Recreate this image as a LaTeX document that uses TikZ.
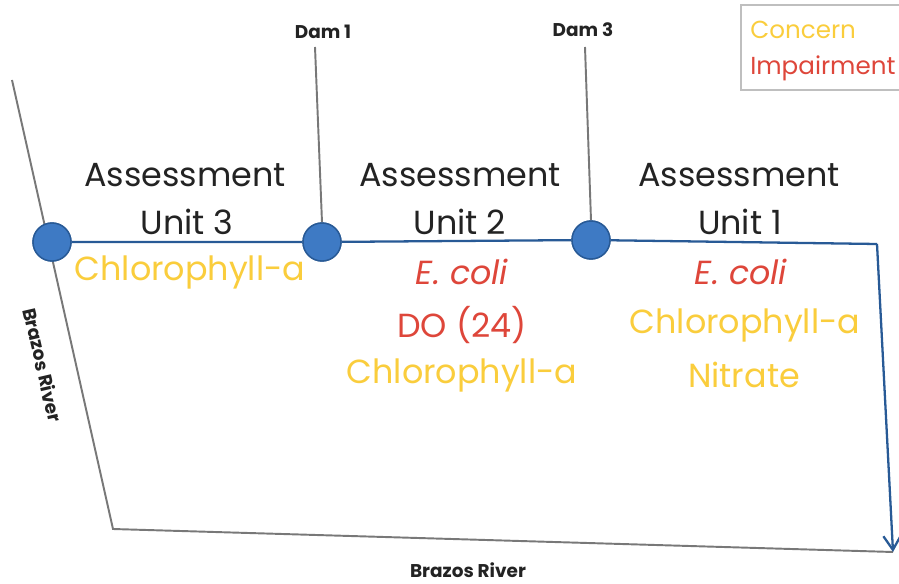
\documentclass[tikz,border=0pt]{standalone}
\usepackage{fontspec}
\setmainfont{Poppins}
\usetikzlibrary{arrows.meta}
\definecolor{cyel}{RGB}{250,205,60}
\definecolor{cred}{RGB}{222,70,58}
\definecolor{cblue}{RGB}{62,122,196}
\definecolor{cbluedk}{RGB}{40,90,150}
\definecolor{cgrey}{RGB}{120,120,120}
\definecolor{ctext}{RGB}{35,35,35}
\tikzset{
  big/.style={font=\fontsize{19}{23}\selectfont, text=ctext, align=center, inner sep=0pt},
  lab/.style={font=\fontsize{19}{23}\selectfont, inner sep=0pt},
  small/.style={font=\fontsize{10.5}{12}\selectfont\bfseries, text=ctext, inner sep=0pt},
  leg/.style={font=\fontsize{14}{17}\selectfont, inner sep=0pt, anchor=west},
  dot/.style={circle, fill=cblue, draw=cbluedk, line width=0.8pt, minimum size=0.76cm, inner sep=0pt},
  river/.style={cgrey, line width=1.1pt},
  damline/.style={cgrey, line width=1.1pt},
  flow/.style={cbluedk, line width=1.3pt}
}
\begin{document}
\begin{tikzpicture}[x=0.02cm,y=-0.02cm]
\useasboundingbox[fill=white] (0,0) rectangle (899,584);
% rivers
\coordinate (rtop) at (12,80);
\coordinate (rbend) at (113,529);
\coordinate (rend) at (893,552);
\draw[river] (rtop) -- (rbend) -- (rend);
% dams
\coordinate (d1top) at (315,47);
\coordinate (d3top) at (585,47);
\node[dot] (c0) at (52,242) {};
\node[dot] (c1) at (322,242) {};
\node[dot] (c2) at (591,240) {};
\coordinate (corner) at (877,244);
\draw[damline] (d1top) -- (c1.north);
\draw[damline] (d3top) -- (c2.north);
\draw[flow] (c0) -- (c1) -- (c2) -- (corner);
\draw[flow, -{Straight Barb[length=8pt,width=10pt]}] (corner) -- (rend);
\node[dot] at (c0) {};
\node[dot] at (c1) {};
\node[dot] at (c2) {};
% labels
\node[small] (dam1) at (323,32) {Dam 1};
\node[small] (dam3) at (583,30) {Dam 3};
\node[small, rotate=-77] (br1) at (43,365) {Brazos River};
\node[small] (br2) at (468,570) {Brazos River};
% legend
\draw[black!25, line width=0.8pt] (905,5) -- (741,5) -- (741,90) -- (905,90);
\node[leg, text=cyel] (lc) at (750,30) {Concern};
\node[leg, text=cred] (li) at (750,68) {Impairment};
% units
\node[big] (a3) at (185,175) {Assessment};
\node[big] (u3) at (187,222) {Unit 3};
\node[big] (a2) at (460,175) {Assessment};
\node[big] (u2) at (460,222) {Unit 2};
\node[big] (a1) at (739,175) {Assessment};
\node[big] (u1) at (740,222) {Unit 1};
% parameters
\node[lab, text=cyel] (p3a) at (190,272) {Chlorophyll-a};
\node[lab, text=cred] (p2a) at (462,272) {\itshape E. coli};
\node[lab, text=cred] (p2b) at (462,325) {DO (24)};
\node[lab, text=cyel] (p2c) at (462,375) {Chlorophyll-a};
\node[lab, text=cred] (p1a) at (741,272) {\itshape E. coli};
\node[lab, text=cyel] (p1b) at (745,325) {Chlorophyll-a};
\node[lab, text=cyel] (p1c) at (744,375) {Nitrate};
\end{tikzpicture}
\end{document}
